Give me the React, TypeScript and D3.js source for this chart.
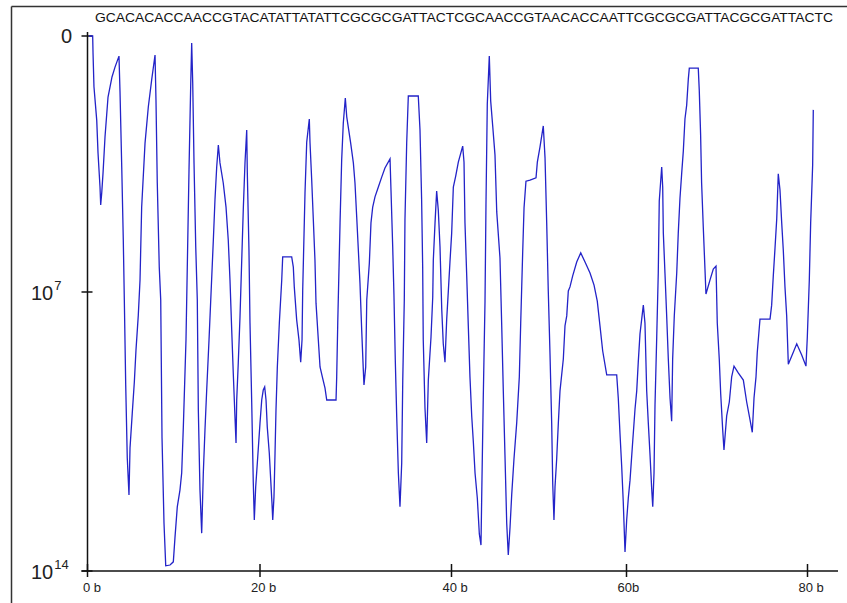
import React from "react";
import * as d3 from "d3";

const sequence =
  "GCACACACCAACCGTACATATTATATTCGCGCGATTACTCGCAACCGTAACACCAATTCGCGCGATTACGCGATTACTC";

const xTicks = [0, 20, 40, 60, 80];
const xTickLabels = ["0 b", "20 b", "40 b", "60b", "80 b"];
const yTicks = [0, 7, 14];
const yTickBase = ["0", "10", "10"];
const yTickExp = ["", "7", "14"];

// base position along the sequence
const positions = [
  0.17, 0.6, 0.64, 0.75, 1.07, 1.22, 1.45, 1.53, 1.65, 1.8, 2.03, 2.38, 2.84, 3.19, 3.65, 3.77, 3.97, 4.15, 4.27, 4.43,
  4.61, 4.81, 4.93, 5.19, 5.43, 5.62, 5.89, 6.09, 6.28, 6.67, 7.05, 7.44, 7.83, 7.94, 8.09, 8.32, 8.49, 8.64, 8.87, 9.07,
  9.57, 9.95, 10.14, 10.41, 10.72, 10.92, 11.11, 11.42, 11.77, 11.97, 12.08, 12.2, 12.35, 12.55, 12.73, 12.85, 13.04, 13.24, 13.43, 13.62,
  13.82, 14.09, 14.59, 14.78, 14.98, 15.17, 15.36, 15.74, 16.06, 16.32, 16.52, 16.72, 16.9, 17.1, 17.22, 17.3, 17.48, 17.68, 18.07, 18.26,
  18.46, 18.53, 18.72, 18.84, 19.04, 19.22, 19.34, 19.5, 19.69, 20.0, 20.18, 20.34, 20.49, 20.63, 20.76, 20.97, 21.12, 21.25, 21.33, 21.46,
  21.57, 21.67, 21.81, 22.02, 22.27, 22.37, 23.31, 23.48, 23.58, 23.83, 24.07, 24.25, 24.39, 24.46, 24.7, 24.88, 25.15, 25.22, 25.4, 25.57,
  25.74, 25.85, 26.09, 26.27, 26.51, 26.79, 26.97, 27.94, 28.01, 28.12, 28.36, 28.53, 28.7, 28.91, 29.06, 29.22, 29.47, 29.75, 29.92, 30.1,
  30.27, 30.44, 30.62, 30.79, 30.86, 31.04, 31.15, 31.42, 31.59, 31.77, 32.01, 32.36, 32.71, 33.05, 33.58, 33.68, 33.86, 33.99, 34.13, 34.28,
  34.45, 34.62, 34.8, 34.91, 35.07, 35.14, 35.32, 35.49, 36.53, 36.71, 36.88, 36.99, 37.05, 37.23, 37.41, 37.58, 37.86, 38.04, 38.1, 38.28,
  38.45, 38.62, 38.8, 38.98, 39.14, 39.32, 39.5, 39.67, 39.84, 40.02, 40.21, 40.48, 40.78, 41.28, 41.43, 41.54, 41.74, 41.92, 42.11, 42.31,
  42.49, 42.69, 42.95, 43.18, 43.37, 43.45, 43.63, 43.83, 43.94, 44.09, 44.32, 44.48, 44.71, 44.97, 45.17, 45.54, 45.74, 45.92, 46.11, 46.31,
  46.49, 46.69, 46.88, 47.14, 47.45, 47.75, 47.91, 48.14, 48.29, 48.51, 48.97, 49.66, 49.81, 50.11, 50.49, 50.69, 50.88, 51.06, 51.26, 51.45,
  51.57, 51.71, 51.83, 52.02, 52.21, 52.4, 52.78, 52.97, 53.17, 53.35, 53.54, 53.85, 54.31, 54.77, 55.26, 55.83, 56.29, 56.66, 56.97, 57.28,
  57.74, 58.88, 59.06, 59.26, 59.45, 59.63, 59.83, 60.02, 60.2, 60.39, 60.69, 60.94, 61.13, 61.3, 61.49, 61.68, 61.86, 62.04, 62.23, 62.41,
  62.6, 62.78, 62.9, 63.04, 63.15, 63.34, 63.51, 63.62, 63.89, 64.0, 64.07, 64.25, 64.44, 64.62, 64.81, 64.99, 65.1, 65.28, 65.55, 65.72,
  65.91, 66.1, 66.28, 66.46, 66.65, 66.83, 66.94, 67.93, 68.04, 68.19, 68.3, 68.48, 68.67, 68.78, 69.23, 69.59, 69.89, 70.03, 70.25, 70.41,
  70.63, 70.77, 71.07, 71.36, 71.62, 71.88, 72.35, 72.91, 73.28, 73.65, 73.9, 74.09, 74.31, 74.45, 74.75, 75.86, 76.04, 76.22, 76.41, 76.6,
  76.77, 76.96, 77.15, 77.33, 77.51, 77.7, 77.88, 78.43, 78.81, 79.36, 79.83, 79.98, 80.2, 80.35, 80.57, 80.64,
];

// value as power of ten (exponent)
const exponents = [
  0, 0, 0.46, 1.39, 2.3, 3.2, 4.13, 4.62, 4.29, 3.75, 2.76, 1.67, 1.12, 0.85, 0.55, 1.53, 3.58, 5.58, 7.2, 9.33,
  11.16, 12.09, 10.91, 10.04, 9.26, 8.46, 7.58, 6.67, 4.68, 2.93, 1.94, 1.2, 0.52, 1.75, 4.02, 6.32, 7.2, 10.66, 12.8, 13.87,
  13.85, 13.77, 13.17, 12.39, 11.97, 11.54, 10.39, 8.2, 3.66, 1.29, 0.19, 1.29, 3.47, 5.77, 7.2, 9.96, 11.97, 13.05, 11.52, 10.46,
  9.46, 8.2, 5.58, 4.48, 3.58, 2.98, 3.47, 4.02, 4.68, 5.58, 6.67, 7.95, 9.03, 10.14, 10.79, 9.71, 8.78, 7.63, 4.68, 3.47,
  2.57, 3.75, 5.85, 7.78, 9.78, 11.77, 12.72, 11.89, 11.29, 10.29, 9.71, 9.46, 9.38, 9.71, 10.39, 11.04, 11.72, 12.29, 12.72, 12.14,
  11.04, 9.96, 8.88, 7.78, 6.67, 6.04, 6.04, 6.32, 6.86, 7.7, 8.2, 8.76, 8.2, 6.95, 4.29, 2.9, 2.27, 2.9, 3.94, 5.03,
  6.13, 7.28, 8.2, 8.88, 9.13, 9.41, 9.71, 9.71, 9.13, 7.78, 5.11, 3.39, 2.38, 1.7, 2.21, 2.49, 2.93, 3.47, 4.02, 4.95,
  5.85, 6.75, 7.95, 8.96, 9.33, 8.88, 7.2, 6.21, 5.11, 4.68, 4.4, 4.13, 3.86, 3.61, 3.36, 4.21, 5.77, 7.08, 8.71, 10.14,
  11.54, 12.39, 11.29, 9.21, 7.2, 5.03, 2.93, 1.64, 1.64, 2.57, 4.48, 6.32, 8.2, 9.91, 10.79, 9.21, 8.13, 7.13, 6.13, 5.11,
  4.24, 4.76, 5.77, 7.43, 8.3, 8.76, 7.68, 6.97, 6.18, 5.39, 4.13, 3.83, 3.45, 3.01, 3.45, 5.11, 6.56, 7.85, 9.13, 10.11,
  10.74, 11.54, 12.17, 13.07, 13.35, 12.17, 9.66, 7.23, 4.62, 1.86, 0.55, 1.78, 2.46, 3.25, 4.81, 6.07, 7.85, 9.48, 11.09, 12.8,
  13.6, 12.9, 12.09, 11.19, 10.29, 9.13, 7.78, 5.88, 4.7, 3.97, 3.94, 3.88, 3.45, 3.04, 2.46, 3.34, 5.11, 6.97, 8.58, 10.29,
  11.82, 12.72, 11.89, 11.19, 10.29, 9.48, 8.68, 7.85, 7.6, 6.97, 6.86, 6.56, 6.18, 5.93, 6.18, 6.48, 6.81, 7.23, 7.85, 8.48,
  9.08, 9.08, 9.66, 10.57, 11.37, 12.27, 13.52, 12.72, 12.17, 11.72, 10.74, 9.94, 9.48, 8.76, 8.05, 7.68, 7.33, 7.78, 9.48, 10.29,
  11.09, 11.92, 12.39, 11.54, 9.83, 8.13, 6.48, 4.51, 3.58, 4.13, 5.39, 6.48, 7.6, 8.68, 9.66, 10.24, 8.68, 7.6, 6.48, 5.39,
  4.43, 3.75, 3.14, 2.27, 1.89, 1.18, 0.88, 0.88, 1.48, 2.71, 4.02, 5.2, 6.37, 7.05, 6.67, 6.37, 6.29, 7.78, 8.68, 9.56,
  10.46, 10.96, 10.11, 9.76, 9.13, 8.86, 9.03, 9.21, 9.76, 10.21, 10.52, 9.66, 9.13, 8.51, 7.68, 7.68, 7.33, 6.56, 5.8, 5.0,
  3.77, 4.21, 5.11, 5.88, 6.86, 7.6, 8.81, 8.51, 8.3, 8.58, 8.86, 8.13, 6.67, 5.11, 3.53, 2.02,
];

const W = 847;
const H = 603;

export default function App() {
  const x = d3.scaleLinear().domain(xTicks).range([87.5, 260, 451.5, 626.5, 807.5]);
  const y = d3.scaleLinear().domain(yTicks).range([36, 292, 571]);

  const pts: [number, number][] = positions.map((p, i) => [p, exponents[i]]);
  const line = d3
    .line<[number, number]>()
    .x((d) => x(d[0]))
    .y((d) => y(d[1]))
    .curve(d3.curveLinear);

  const font = "'Liberation Sans', Arial, sans-serif";
  const axisX = x(0);
  const axisY = y(14);

  return (
    <svg
      width={W}
      height={H}
      style={{ position: "absolute", left: 0, top: 0, background: "#fff" }}
    >
      <rect x={0} y={0} width={W} height={H} fill="#fff" />
      {/* frame */}
      <line x1={11.5} y1={6.5} x2={W} y2={6.5} stroke="#333" strokeWidth={1.5} />
      <line x1={11.5} y1={6.5} x2={11.5} y2={H} stroke="#333" strokeWidth={1.5} />

      {/* sequence */}
      <text
        x={95}
        y={22}
        fontFamily={font}
        fontSize={12.5}
        fill="#111"
        textLength={738}
        lengthAdjust="spacingAndGlyphs"
      >
        {sequence}
      </text>

      {/* axes */}
      <line x1={axisX} y1={y(0) - 4} x2={axisX} y2={axisY} stroke="#111" strokeWidth={1.5} />
      <line x1={axisX - 6} y1={axisY} x2={838} y2={axisY} stroke="#111" strokeWidth={1.5} />
      {yTicks.map((t) => (
        <line key={"yt" + t} x1={axisX - 6} x2={axisX + 5} y1={y(t)} y2={y(t)} stroke="#111" strokeWidth={1.5} />
      ))}
      {xTicks.map((t) => (
        <line key={"xt" + t} x1={x(t)} x2={x(t)} y1={axisY - 7} y2={axisY + 6} stroke="#111" strokeWidth={1.5} />
      ))}

      {/* y labels */}
      {yTicks.map((t, i) =>
        yTickExp[i] === "" ? (
          <text key={"yl" + t} x={72} y={y(t) + 7} textAnchor="end" fontFamily={font} fontSize={20} fill="#222">
            {yTickBase[i]}
          </text>
        ) : (
          <text key={"yl" + t} x={31} y={y(t) + 8} fontFamily={font} fontSize={20} fill="#222">
            {yTickBase[i]}
            <tspan fontSize={13} dy={-10} dx={1}>
              {yTickExp[i]}
            </tspan>
          </text>
        )
      )}

      {/* x labels */}
      {xTicks.map((t, i) => (
        <text key={"xl" + t} x={x(t) - (i === 0 ? 4.5 : 9)} y={592} fontFamily={font} fontSize={13} fill="#222">
          {xTickLabels[i]}
        </text>
      ))}

      {/* data line */}
      <path d={line(pts) || ""} fill="none" stroke="#2323c8" strokeWidth={1.3} strokeLinejoin="miter" />
    </svg>
  );
}
